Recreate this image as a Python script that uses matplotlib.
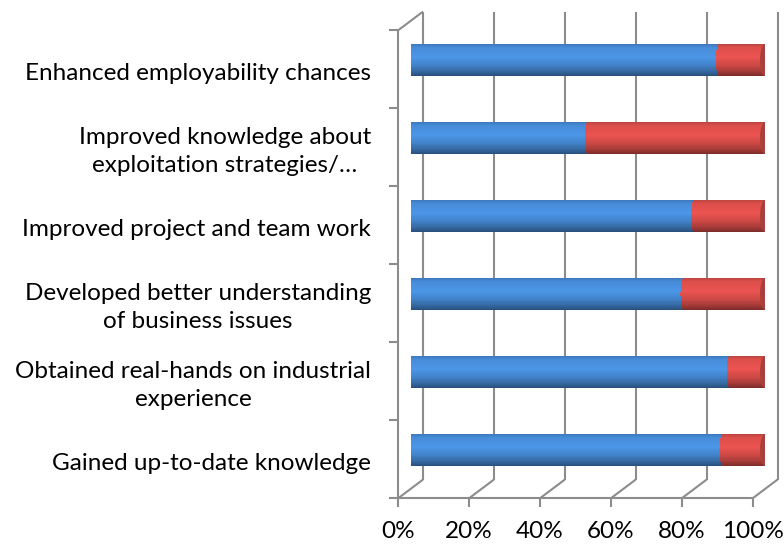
import numpy as np
import matplotlib.pyplot as plt
from matplotlib.patches import Ellipse

categories = ["Enhanced employability chances",
              "Improved knowledge about\nexploitation strategies/…",
              "Improved project and team work",
              "Developed better understanding\nof business issues",
              "Obtained real-hands on industrial\nexperience",
              "Gained up-to-date knowledge"]
agree = np.array([87, 50, 80, 77, 90, 88])
disagree = np.array([13, 50, 20, 23, 10, 12])
xticks = [0, 20, 40, 60, 80, 100]
xlabels = ["0%", "20%", "40%", "60%", "80%", "100%"]

plt.rcParams['font.family'] = ['Lato', 'DejaVu Sans']

W, H = 784, 544
fig = plt.figure(figsize=(W / 100, H / 100), dpi=100)
# axes = middle depth plane of the 3d box
ax = fig.add_axes([410.5 / W, (H - 489) / H, 354.5 / W, 468 / H])
ax.set_xlim(0, 100)
ax.set_ylim(5.5, -0.5)
ax.axis('off')

pxx = 100 / 354.5   # data units per pixel, x
pxy = 6 / 468       # data units per pixel, y
dx, dy = 12.5 * pxx, 9.4 * pxy   # half depth offset
grid = '#8c8c8c'
lk = dict(color=grid, lw=1.5, clip_on=False, solid_capstyle='butt', zorder=1)

# back wall gridlines
for x in xticks:
    ax.plot([x + dx, x + dx], [-0.5 - dy, 5.5 - dy], **lk)
    # floor lines
    ax.plot([x - dx, x + dx], [5.5 + dy, 5.5 - dy], **lk)
    # x ticks
    ax.plot([x - dx, x - dx], [5.5 + dy, 5.5 + dy + 9 * pxy], **lk)
# floor front edge
ax.plot([-dx, 100 - dx], [5.5 + dy, 5.5 + dy], **lk)
# left wall
ax.plot([-dx, -dx], [-0.5 + dy, 5.5 + dy], **lk)
ax.plot([-dx, dx], [-0.5 + dy, -0.5 - dy], **lk)
for b in np.arange(-0.5, 6, 1):
    ax.plot([-dx - 9 * pxx, -dx], [b + dy, b + dy], **lk)

# cylinders, drawn as thin horizontal slices
n = 30
h = 0.41
r = 5 * pxx
t = (np.arange(n) + 0.5) / n
u = 2 * t - 1
rnd = r * np.sqrt(1 - u ** 2)
shade = np.interp(t, [0, 0.12, 0.4, 0.7, 1.0], [0.80, 0.93, 1.0, 0.85, 0.52])
blue = np.array([76, 150, 232]) / 255
red = np.array([236, 84, 80]) / 255
ypos = np.arange(len(categories))
for j in range(n):
    yy = ypos - h / 2 + t[j] * h
    left = -rnd[j]
    bnd = agree - 0.6 * rnd[j]
    ax.barh(yy, bnd - left, left=left, height=h / n * 1.15,
            color=blue * shade[j], lw=0, zorder=3)
    ax.barh(yy, agree + disagree + rnd[j] - bnd, left=bnd, height=h / n * 1.15,
            color=red * shade[j], lw=0, zorder=3)
for i in ypos:
    ax.add_patch(Ellipse((agree[i] + disagree[i], i), 2 * r, h,
                         facecolor='#a9403e', edgecolor='none', zorder=4))

# category labels
for i, lab in enumerate(categories):
    ax.text(-39.5 * pxx, i + dy + 4 * pxy, lab, ha='right', va='center',
            multialignment='center', fontsize=17.5, color='black',
            linespacing=1.4, clip_on=False)
for x, lab in zip(xticks, xlabels):
    ax.text(x - dx, 5.5 + dy + 40 * pxy, lab, ha='center', va='baseline',
            fontsize=17.5, color='black', clip_on=False)

fig.savefig('out.png', dpi=100)
